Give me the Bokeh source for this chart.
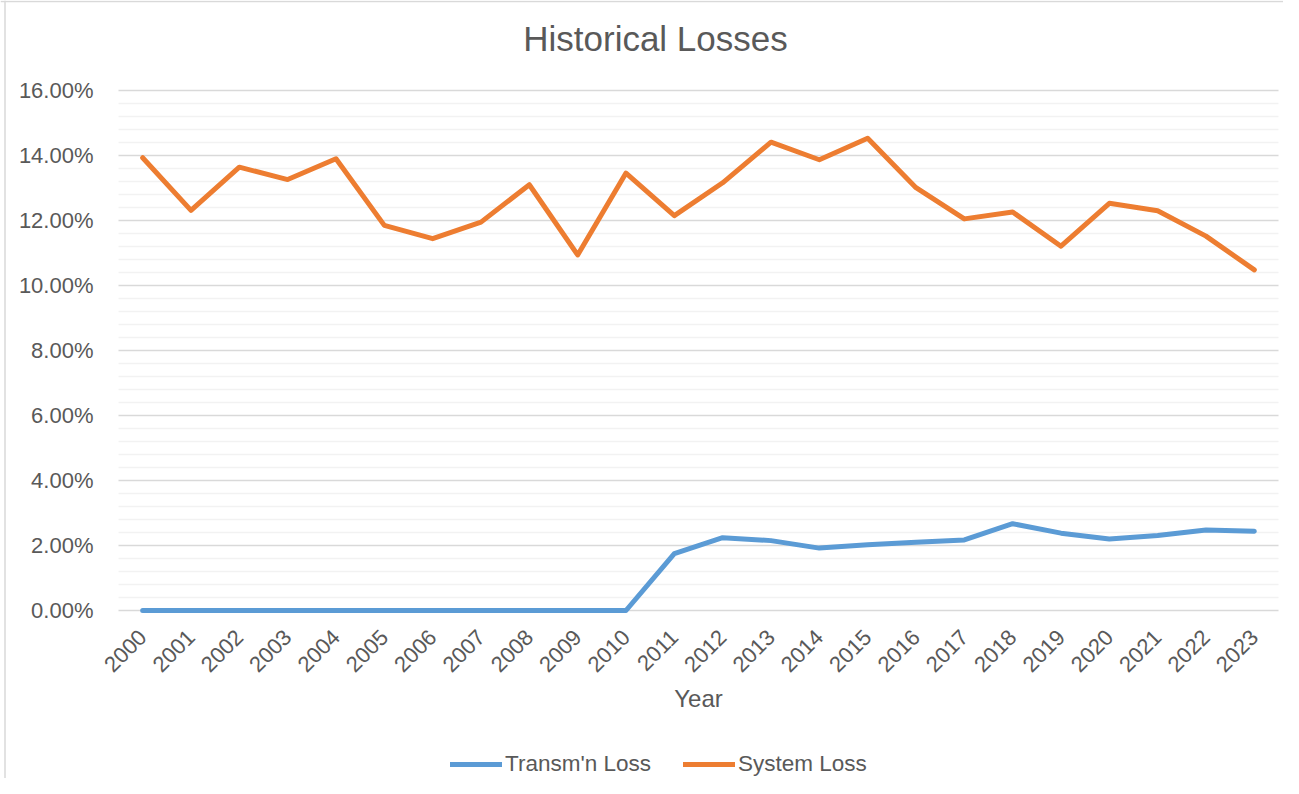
import numpy as np
from bokeh.plotting import figure
from bokeh.models import (Range1d, FixedTicker, PrintfTickFormatter, Legend,
                          LegendItem, Label, Span)
from bokeh.embed import file_html
from bokeh.resources import INLINE

years = list(range(2000, 2024))
transm_loss = [0, 0, 0, 0, 0, 0, 0, 0, 0, 0, 0,
               1.75, 2.24, 2.15, 1.92, 2.02, 2.10, 2.17, 2.67, 2.38, 2.20, 2.31, 2.48, 2.44]
system_loss = [13.93, 12.31, 13.64, 13.26, 13.90, 11.85, 11.44, 11.95, 13.10, 10.94, 13.46,
               12.15, 13.16, 14.41, 13.87, 14.53, 13.01, 12.05, 12.26, 11.21, 12.53, 12.30, 11.52, 10.48]
y_ticks = [0, 2, 4, 6, 8, 10, 12, 14, 16]

title_text = "Historical Losses"
x_title = "Year"
series_names = ["Transm'n Loss", "System Loss"]

BLUE = "#5B9BD5"
ORANGE = "#ED7D31"
TXT = "#595959"
FONT = "Liberation Sans"

# canvas / plot-area layout (pixels)
W, H = 1283, 778
AREA_L, AREA_R = 118, 1278     # plot area left/right
AREA_T, AREA_B = 90, 610       # rows of 16% and 0%
X0, X1 = years[0] - 0.5, years[-1] + 0.5
PX_X = (AREA_R - AREA_L) / (X1 - X0)
PX_Y = (AREA_B - AREA_T) / 16.0

p = figure(width=W, height=H, output_backend="svg", toolbar_location=None,
           x_range=Range1d(X0 - AREA_L / PX_X, X1 + (W - AREA_R) / PX_X),
           y_range=Range1d(-(H - AREA_B) / PX_Y, 16 + AREA_T / PX_Y),
           min_border_left=0, min_border_right=0, min_border_top=0,
           min_border_bottom=0)
p.outline_line_color = None
p.background_fill_color = "white"
p.border_fill_color = "white"

# chart border (left and top edges, as in the cropped reference)
p.add_layout(Span(location=X0 - (AREA_L - 4.5) / PX_X, dimension="height",
                  line_color="#D9D9D9", line_width=1.5))
p.add_layout(Span(location=16 + (AREA_T - 1) / PX_Y, dimension="width",
                  line_color="#D9D9D9", line_width=1.5))

# title
p.add_layout(Label(x=655, y=H - 38, x_units="screen", y_units="screen",
                   text=title_text, text_align="center", text_baseline="middle",
                   text_font=FONT, text_font_size="35px", text_color=TXT))

# x axis title, centred under the plot area
p.add_layout(Label(x=(AREA_L + AREA_R) / 2, y=H - 698, x_units="screen", y_units="screen",
                   text=x_title, text_align="center", text_baseline="middle",
                   text_font=FONT, text_font_size="24px", text_color=TXT))

# x axis pinned at 0%
p.xaxis.fixed_location = 0
p.xaxis.ticker = FixedTicker(ticks=years)
p.xaxis.major_label_orientation = np.pi / 4
p.xaxis.major_label_text_font = FONT
p.xaxis.major_label_text_font_size = "22px"
p.xaxis.major_label_text_color = TXT
p.xaxis.major_tick_line_color = None
p.xaxis.minor_tick_line_color = None
p.xaxis.major_tick_out = 0
p.xaxis.major_label_standoff = 23
p.xaxis.axis_line_color = None

# y axis pinned at left edge of plot area
minor = [round(v, 2) for v in np.arange(0, 16.01, 0.4) if abs(v / 2 - round(v / 2)) > 1e-6]
p.yaxis.fixed_location = X0
p.yaxis.ticker = FixedTicker(ticks=y_ticks, minor_ticks=minor)
p.yaxis.formatter = PrintfTickFormatter(format="%.2f%%")
p.yaxis.major_label_text_font = FONT
p.yaxis.major_label_text_font_size = "22px"
p.yaxis.major_label_text_color = TXT
p.yaxis.major_tick_line_color = None
p.yaxis.minor_tick_line_color = None
p.yaxis.major_tick_out = 0
p.yaxis.major_label_standoff = 21
p.yaxis.axis_line_color = None

p.xgrid.grid_line_color = None
p.ygrid.cross_bounds = (X0, X1)
p.ygrid.grid_line_color = "#D9D9D9"
p.ygrid.grid_line_width = 1.5
p.ygrid.minor_grid_line_color = "#F2F2F2"
p.ygrid.minor_grid_line_width = 1.5

r1 = p.line(years, transm_loss, line_color=BLUE, line_width=5,
            line_cap="round", line_join="round")
r2 = p.line(years, system_loss, line_color=ORANGE, line_width=5,
            line_cap="round", line_join="round")

legend = Legend(items=[LegendItem(label=series_names[0], renderers=[r1]),
                       LegendItem(label=series_names[1], renderers=[r2])],
                orientation="horizontal", location=(450, 1),
                label_text_font=FONT, label_text_font_size="22.5px",
                label_text_color=TXT, glyph_width=52, glyph_height=26,
                label_height=26, label_standoff=3, spacing=32, padding=0,
                margin=0, border_line_color=None, background_fill_alpha=0)
p.add_layout(legend, "center")

open("out.html", "w").write(file_html(p, INLINE))
